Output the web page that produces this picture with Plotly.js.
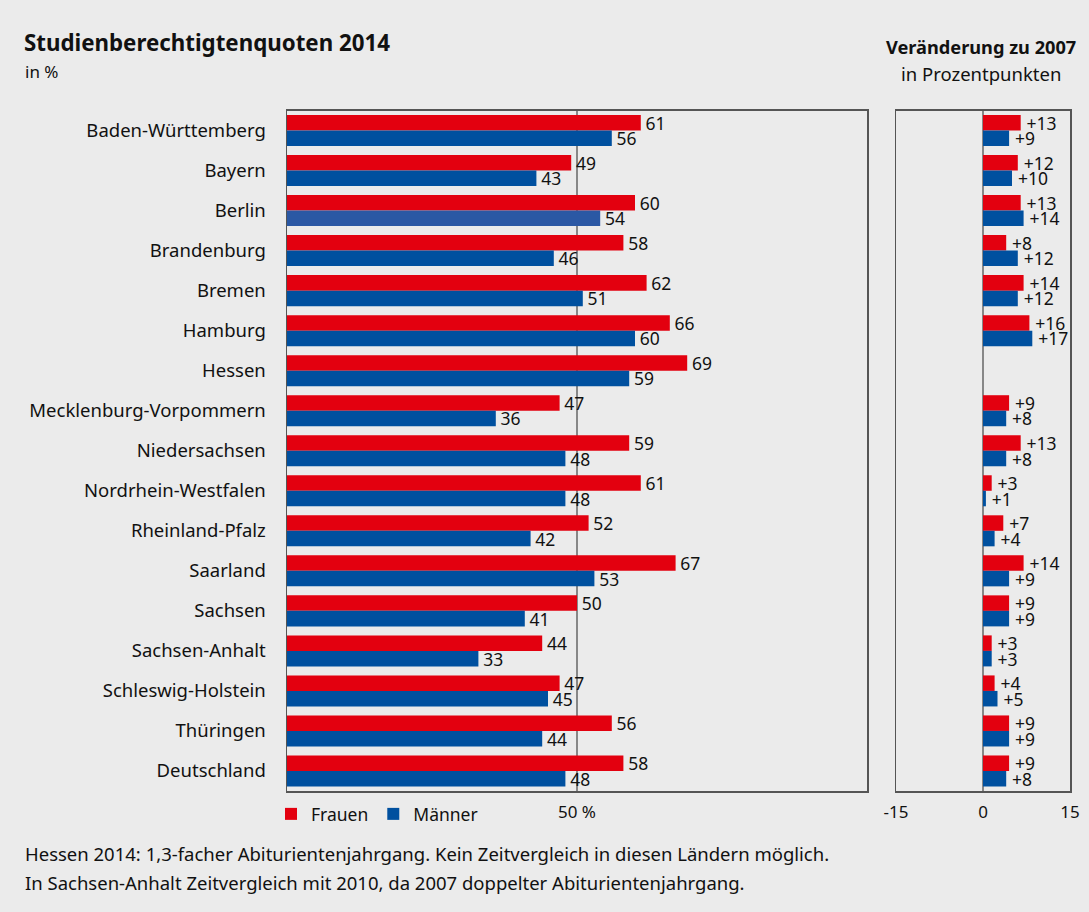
<!DOCTYPE html>
<html>
<head>
<meta charset="utf-8">
<script src="https://cdn.plot.ly/plotly-3.0.1.min.js"></script>
<style>
  html, body { margin: 0; padding: 0; background: #ebebeb; }
  #chart { width: 1089px; height: 912px; }
</style>
</head>
<body>
<div id="chart"></div>
<script>
const laender = ["Baden-Württemberg", "Bayern", "Berlin", "Brandenburg", "Bremen", "Hamburg", "Hessen",
  "Mecklenburg-Vorpommern", "Niedersachsen", "Nordrhein-Westfalen", "Rheinland-Pfalz", "Saarland",
  "Sachsen", "Sachsen-Anhalt", "Schleswig-Holstein", "Thüringen", "Deutschland"];
const frauen2014 = [61, 49, 60, 58, 62, 66, 69, 47, 59, 61, 52, 67, 50, 44, 47, 56, 58];
const maenner2014 = [56, 43, 54, 46, 51, 60, 59, 36, 48, 48, 42, 53, 41, 33, 45, 44, 48];
const frauenDiff = [13, 12, 13, 8, 14, 16, null, 9, 13, 3, 7, 14, 9, 3, 4, 9, 9];
const maennerDiff = [9, 10, 14, 12, 12, 17, null, 8, 8, 1, 4, 9, 9, 3, 5, 9, 8];
const diffTickVals = [-30, 0, 30];
const diffTickText = ["-15", "0", "15"];

const RED = "#e3000f", BLUE = "#00509f", BLUE_HL = "#2b58a4";
const FONT = "Noto Sans, Open Sans, sans-serif";
const maennerColors = laender.map(l => l === "Berlin" ? BLUE_HL : BLUE);
const fmtVal = v => "\u200A" + v;
const fmtDiff = v => v == null ? "" : "\u2009+" + v;

const common = { type: "bar", orientation: "h", y: laender, textposition: "outside", constraintext: "none",
  textfont: { size: 17.5, color: "#111" }, cliponaxis: false };

const traces = [
  Object.assign({}, common, { name: "Frauen", x: frauen2014, marker: { color: RED },
    text: frauen2014.map(fmtVal), xaxis: "x", yaxis: "y" }),
  Object.assign({}, common, { name: "Männer", x: maenner2014, marker: { color: maennerColors },
    text: maenner2014.map(fmtVal), xaxis: "x", yaxis: "y" }),
  Object.assign({}, common, { name: "Frauen Veränderung", x: frauenDiff, marker: { color: RED },
    text: frauenDiff.map(fmtDiff), xaxis: "x2", yaxis: "y2", showlegend: false }),
  Object.assign({}, common, { name: "Männer Veränderung", x: maennerDiff, marker: { color: BLUE },
    text: maennerDiff.map(fmtDiff), xaxis: "x2", yaxis: "y2", showlegend: false })
];

const yTop = 1 - 110.5 / 912, yBot = 1 - 791 / 912;

const layout = {
  width: 1089, height: 912,
  margin: { l: 0, r: 0, t: 0, b: 0 },
  paper_bgcolor: "#ebebeb", plot_bgcolor: "#ebebeb",
  font: { family: FONT, size: 17, color: "#111" },
  barmode: "group", bargap: 0.225, bargroupgap: 0,
  title: { text: "<b>Studienberechtigtenquoten 2014</b>", x: 24 / 1089, xanchor: "left",
    y: 1 - 43 / 912, yanchor: "middle", xref: "paper", yref: "paper",
    font: { family: FONT, size: 22.3, color: "#111" } },
  xaxis: { domain: [287 / 1089, 867 / 1089], range: [0, 100], showline: true, mirror: true,
    linecolor: "#555", linewidth: 1.5, showgrid: false, zeroline: false, ticks: "",
    tickvals: [50], ticktext: ["50 %"], tickfont: { size: 17 }, ticklabelstandoff: 5, fixedrange: true },
  yaxis: { domain: [yBot, yTop], type: "category", categoryarray: laender, range: [16.5, -0.5],
    showline: true, mirror: true, linecolor: "#555", linewidth: 1.5, showgrid: false, ticks: "",
    tickfont: { size: 18.5 }, ticklabelstandoff: 16, fixedrange: true },
  xaxis2: { domain: [896 / 1089, 1070 / 1089], anchor: "y2", range: [-30, 30], showline: true, mirror: true,
    linecolor: "#555", linewidth: 1.5, showgrid: false, zeroline: false, ticks: "",
    tickvals: diffTickVals, ticktext: diffTickText, tickfont: { size: 17 }, ticklabelstandoff: 5, fixedrange: true },
  yaxis2: { domain: [yBot, yTop], anchor: "x2", type: "category", categoryarray: laender, range: [16.5, -0.5],
    showline: true, mirror: true, linecolor: "#555", linewidth: 1.5, showgrid: false, showticklabels: false,
    ticks: "", fixedrange: true },
  showlegend: true,
  legend: { orientation: "h", x: 271 / 1089, xanchor: "left", y: 1 - 796 / 912, yanchor: "top",
    font: { size: 17.5 }, bgcolor: "rgba(0,0,0,0)", itemwidth: 30, traceorder: "normal" },
  shapes: [
    { type: "line", xref: "x", yref: "y domain", x0: 50, x1: 50, y0: 0, y1: 1, layer: "below",
      line: { color: "#666", width: 1.5 } },
    { type: "line", xref: "x2", yref: "y2 domain", x0: 0, x1: 0, y0: 0, y1: 1, layer: "below",
      line: { color: "#666", width: 1.5 } }
  ],
  annotations: [
    { text: "in %", xref: "paper", yref: "paper", x: 23 / 1089, y: 1 - 71 / 912, xanchor: "left", yanchor: "middle",
      showarrow: false, font: { size: 17 } },
    { text: "<b>Veränderung zu 2007</b>", xref: "paper", yref: "paper", x: 981 / 1089, y: 1 - 47 / 912,
      xanchor: "center", yanchor: "middle", showarrow: false, font: { size: 18.2 } },
    { text: "in Prozentpunkten", xref: "paper", yref: "paper", x: 981 / 1089, y: 1 - 73 / 912,
      xanchor: "center", yanchor: "middle", showarrow: false, font: { size: 18.5 } },
    { text: "Hessen 2014: 1,3-facher Abiturientenjahrgang. Kein Zeitvergleich in diesen Ländern möglich.",
      xref: "paper", yref: "paper", x: 23 / 1089, y: 1 - 853 / 912, xanchor: "left", yanchor: "middle",
      showarrow: false, font: { size: 18.5 } },
    { text: "In Sachsen-Anhalt Zeitvergleich mit 2010, da 2007 doppelter Abiturientenjahrgang.",
      xref: "paper", yref: "paper", x: 23 / 1089, y: 1 - 882 / 912, xanchor: "left", yanchor: "middle",
      showarrow: false, font: { size: 18.5 } }
  ]
};

Plotly.newPlot("chart", traces, layout, { displayModeBar: false, staticPlot: true });
</script>
</body>
</html>
